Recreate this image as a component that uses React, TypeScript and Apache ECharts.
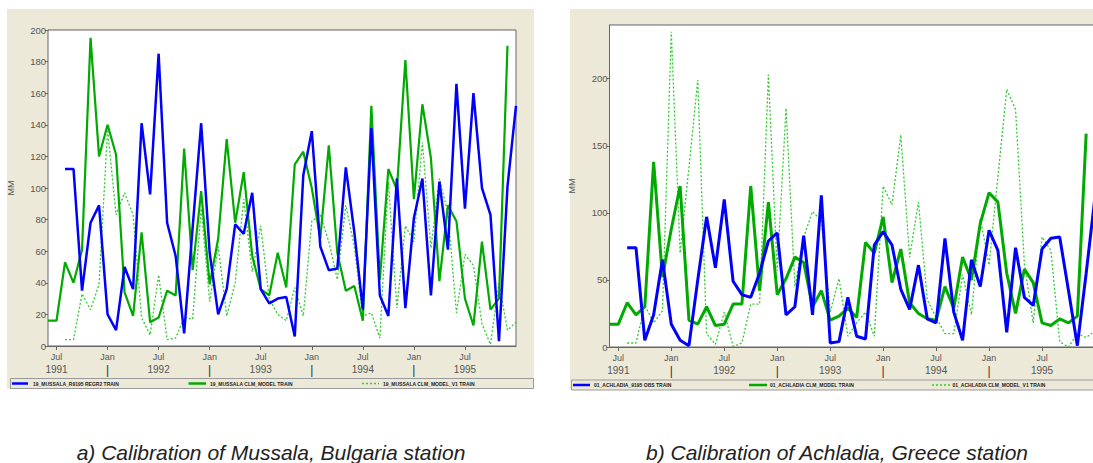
import React, { useEffect, useRef } from "react";
import * as echarts from "echarts";

// ---------- categories (monthly, Jun 1991 .. Jan 1996) ----------
const MONTH_NAMES = ["Jan", "Feb", "Mar", "Apr", "May", "Jun", "Jul", "Aug", "Sep", "Oct", "Nov", "Dec"];
const START_YEAR = 1991;
const START_MONTH_INDEX = 5; // June
const MONTH_COUNT = 56;
const CATEGORIES: string[] = [];
for (let i = 0; i < MONTH_COUNT; i++) {
  const t = START_MONTH_INDEX + i;
  CATEGORIES.push(`${START_YEAR + Math.floor(t / 12)}-${MONTH_NAMES[t % 12]}`);
}

// ---------- a) Mussala, Bulgaria ----------
const MUSSALA_REGR2 = [
  null, null, 112, 112, 35, 78, 89, 20, 10, 50, 36, 141, 96, 185, 78, 57, 8, 75, 141, 59,
  20, 36, 77, 71, 97, 36, 27, 30, 31, 6, 108, 136, 63, 48, 49, 113, 72, 23, 138, 32,
  19, 106, 24, 81, 106, 32, 104, 61, 166, 87, 160, 100, 83, 3, 101, 152,
];
const MUSSALA_CLM = [
  16, 16, 53, 40, 61, 195, 120, 140, 121, 34, 19, 72, 15, 18, 35, 32, 125, 48, 98, 39,
  68, 131, 78, 110, 57, 36, 32, 59, 37, 115, 123, 100, 68, 127, 59, 35, 38, 16, 152, 42,
  112, 99, 181, 93, 153, 119, 41, 89, 79, 30, 13, 66, 23, 30, 190, null,
];
const MUSSALA_CLM_V1 = [
  null, null, 4, 4, 33, 23, 39, 137, 83, 97, 83, 18, 7, 45, 4, 5, 18, 17, 87, 28,
  63, 19, 40, 93, 47, 76, 30, 20, 16, 37, 19, 79, 83, 66, 42, 89, 63, 19, 21, 5,
  104, 24, 76, 66, 129, 62, 106, 84, 21, 58, 51, 14, 1, 40, 10, 15,
];

// ---------- b) Achladia, Greece ----------
const ACHLADIA_OBS = [
  null, null, 74, 74, 5, 24, 65, 17, 5, 1, 50, 97, 59, 110, 49, 39, 37, 55, 79, 85,
  24, 30, 83, 24, 113, 3, 4, 37, 8, 6, 76, 86, 76, 43, 28, 61, 21, 18, 81, 26,
  5, 65, 45, 87, 72, 11, 74, 37, 31, 73, 81, 82, 42, 1, 55, 112,
];
const ACHLADIA_CLM = [
  17, 17, 33, 24, 30, 138, 52, 88, 120, 20, 17, 30, 16, 17, 32, 32, 120, 42, 108, 39,
  51, 67, 63, 30, 42, 20, 23, 29, 22, 78, 70, 97, 48, 73, 33, 25, 21, 20, 45, 29,
  67, 50, 92, 115, 108, 55, 25, 58, 48, 18, 16, 21, 18, 23, 159, null,
];
const ACHLADIA_CLM_V1 = [
  null, null, 3, 3, 31, 18, 27, 235, 70, 134, 199, 10, 2, 26, 0.5, 3, 32, 32, 203, 57,
  178, 45, 82, 101, 94, 26, 51, 8, 18, 26, 8, 120, 106, 158, 67, 108, 35, 22, 10, 10,
  54, 24, 96, 61, 127, 192, 177, 62, 18, 82, 72, 4, 0, 10, 7, 12,
];

const LEFT_LEGEND = ["19_MUSSALA_R9195 REGR2 TRAIN", "19_MUSSALA CLM_MODEL TRAIN", "19_MUSSALA CLM_MODEL_V1 TRAIN"];
const RIGHT_LEGEND = ["01_ACHLADIA_9195 OBS TRAIN", "01_ACHLADIA CLM_MODEL TRAIN", "01_ACHLADIA CLM_MODEL_V1 TRAIN"];
const CAPTIONS = ["a) Calibration of Mussala, Bulgaria station", "b) Calibration of Achladia, Greece station"];

const BLUE = "#0000ff";
const GREEN = "#00aa00";
const DOT_GREEN = "#2ecc2e";
const BEIGE = "#ece9d8";
const FONT = '"Liberation Sans", Arial, sans-serif';

const isMajor = (i: number, v: string) => i < MONTH_COUNT - 1 && (v.endsWith("Jan") || v.endsWith("Jul"));

function xAxisFor(gridIndex: number) {
  return {
    type: "category",
    gridIndex,
    data: CATEGORIES,
    boundaryGap: false,
    axisLine: { lineStyle: { color: "#666", width: 1 } },
    axisTick: { interval: isMajor, length: 4, lineStyle: { color: "#666" } },
    splitLine: {
      show: true,
      interval: isMajor,
      lineStyle: { color: "#d9d9d9", width: 1.5 },
    },
    axisLabel: {
      interval: isMajor,
      margin: 4,
      color: "#555",
      fontFamily: FONT,
      formatter: (v: string) => {
        const [y, m] = v.split("-");
        if (m === "Jul") return `{m|Jul}\n{y|${y}}`;
        return `{m|Jan}\n{s||}`;
      },
      rich: {
        m: { fontSize: 9, lineHeight: 13, color: "#555", fontFamily: FONT },
        y: { fontSize: 10, lineHeight: 13, color: "#555", fontFamily: FONT },
        s: { fontSize: 12, lineHeight: 13, color: "#333", fontFamily: FONT },
      },
    },
  };
}

function yAxisFor(gridIndex: number, max: number, interval: number, nameGap: number) {
  return {
    type: "value",
    gridIndex,
    min: 0,
    max,
    interval,
    name: "MM",
    nameLocation: "middle",
    nameRotate: 90,
    nameGap,
    nameTextStyle: { color: "#555", fontSize: 9, fontFamily: FONT },
    axisLine: { show: true, lineStyle: { color: "#666", width: 1 } },
    axisTick: { show: true, length: 3, lineStyle: { color: "#666" } },
    axisLabel: { color: "#555", fontSize: 9.5, fontFamily: FONT, margin: 2, showMaxLabel: max % interval === 0 },
    splitLine: { show: true, lineStyle: { color: "#dedede", width: 1.5 } },
  };
}

function lineSeries(name: string, data: (number | null)[], idx: number, color: string, width: number, dotted = false) {
  return {
    type: "line",
    name,
    xAxisIndex: idx,
    yAxisIndex: idx,
    data,
    showSymbol: false,
    symbol: "none",
    connectNulls: false,
    lineStyle: { color, width, type: dotted ? [2, 2] : "solid" },
    z: dotted ? 2 : 3,
  };
}

function legendGraphics(legend: string[], boxX: number, boxY: number, boxW: number, items: number[][]) {
  const cy = boxY + 5;
  const els: any[] = [
    {
      type: "rect",
      z: 5,
      shape: { x: boxX, y: boxY, width: boxW, height: 10 },
      style: { fill: BEIGE, stroke: "#9a9a9a", lineWidth: 1 },
    },
  ];
  const colors = [BLUE, GREEN, DOT_GREEN];
  const widths = [2.5, 2.5, 1.3];
  legend.forEach((label, i) => {
    const [x1, x2, tx] = items[i];
    els.push({
      type: "line",
      z: 6,
      shape: { x1, y1: cy, x2, y2: cy },
      style: { stroke: colors[i], lineWidth: widths[i], lineDash: i === 2 ? [2, 2] : null },
    });
    els.push({
      type: "text",
      z: 6,
      x: tx,
      y: cy,
      style: {
        text: label,
        fontSize: 5,
        fontWeight: "bold",
        fontFamily: FONT,
        fill: "#222",
        textAlign: "left",
        textVerticalAlign: "middle",
      },
    });
  });
  return els;
}

export default function App() {
  const ref = useRef<HTMLDivElement>(null);
  useEffect(() => {
    if (!ref.current) return;
    const chart = echarts.init(ref.current, undefined, { renderer: "svg" });
    chart.setOption({
      animation: false,
      backgroundColor: "#ffffff",
      grid: [
        { left: 48, top: 30, width: 468, height: 316, show: true, backgroundColor: "#fff", borderColor: "#666", borderWidth: 1, z: 1 },
        { left: 609.5, top: 25, width: 485.5, height: 322, show: true, backgroundColor: "#fff", borderColor: "#666", borderWidth: 1, z: 1 },
      ],
      xAxis: [xAxisFor(0), xAxisFor(1)],
      yAxis: [yAxisFor(0, 200, 20, 33), yAxisFor(1, 240, 50, 33)],
      series: [
        lineSeries(LEFT_LEGEND[2], MUSSALA_CLM_V1, 0, DOT_GREEN, 1.3, true),
        lineSeries(LEFT_LEGEND[1], MUSSALA_CLM, 0, GREEN, 2.2),
        lineSeries(LEFT_LEGEND[0], MUSSALA_REGR2, 0, BLUE, 2.5),
        lineSeries(RIGHT_LEGEND[2], ACHLADIA_CLM_V1, 1, DOT_GREEN, 1.3, true),
        lineSeries(RIGHT_LEGEND[1], ACHLADIA_CLM, 1, GREEN, 3),
        lineSeries(RIGHT_LEGEND[0], ACHLADIA_OBS, 1, BLUE, 3),
      ],
      graphic: [
        { type: "rect", z: -10, shape: { x: 7, y: 9, width: 527, height: 380 }, style: { fill: BEIGE } },
        { type: "rect", z: -10, shape: { x: 570, y: 9, width: 540, height: 381 }, style: { fill: BEIGE } },
        ...legendGraphics(LEFT_LEGEND, 10.5, 378.5, 523, [
          [12, 28, 33],
          [188.5, 206, 210],
          [362, 379, 383],
        ]),
        ...legendGraphics(RIGHT_LEGEND, 571.5, 380, 530, [
          [573, 590, 594],
          [749, 767, 770],
          [932, 950, 952.5],
        ]),
        {
          type: "text",
          x: 271,
          y: 452,
          style: {
            text: CAPTIONS[0],
            fontSize: 21,
            fontStyle: "italic",
            fontFamily: FONT,
            fill: "#222",
            textAlign: "center",
            textVerticalAlign: "middle",
          },
        },
        {
          type: "text",
          x: 837,
          y: 452,
          style: {
            text: CAPTIONS[1],
            fontSize: 21,
            fontStyle: "italic",
            fontFamily: FONT,
            fill: "#222",
            textAlign: "center",
            textVerticalAlign: "middle",
          },
        },
      ],
    });
    return () => chart.dispose();
  }, []);

  return (
    <div style={{ position: "absolute", left: 0, top: 0, width: 1093, height: 463, overflow: "hidden", background: "#fff" }}>
      <div ref={ref} style={{ width: 1100, height: 463 }} />
    </div>
  );
}
